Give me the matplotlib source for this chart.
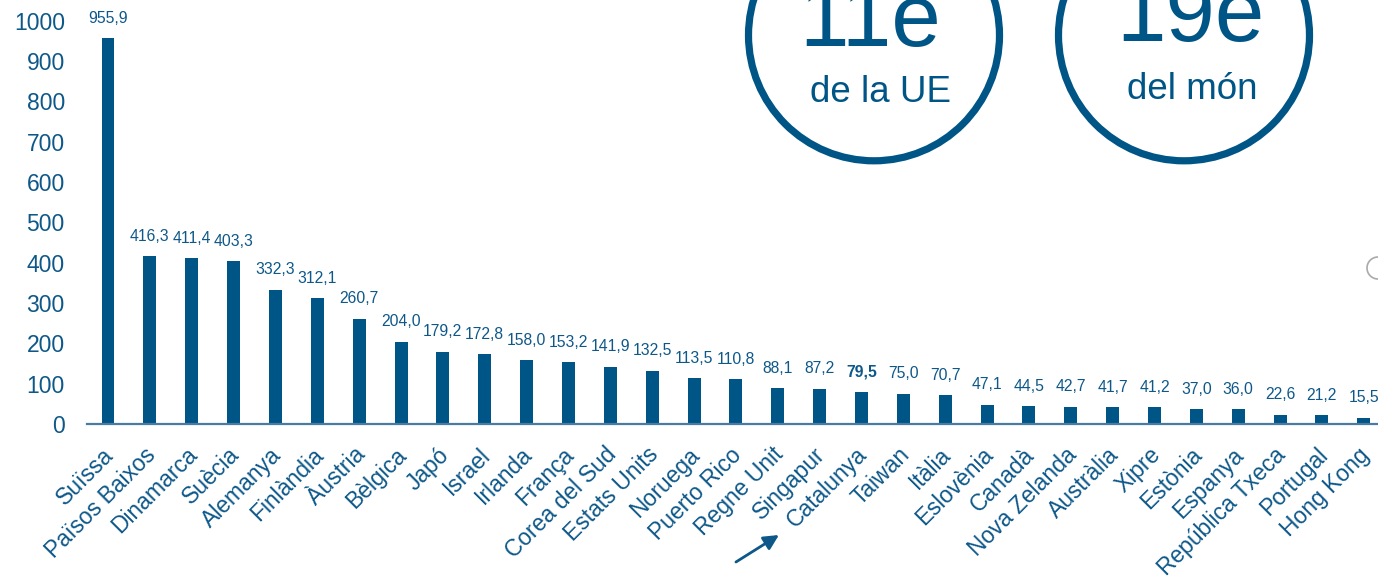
import matplotlib
matplotlib.use("Agg")
import matplotlib.pyplot as plt
from matplotlib.patches import Circle
from matplotlib.transforms import ScaledTranslation

plt.rcParams['font.family'] = ['Liberation Sans', 'DejaVu Sans']

countries = ["Suïssa", "Països Baixos", "Dinamarca", "Suècia", "Alemanya", "Finlàndia",
             "Àustria", "Bèlgica", "Japó", "Israel", "Irlanda", "França", "Corea del Sud",
             "Estats Units", "Noruega", "Puerto Rico", "Regne Unit", "Singapur", "Catalunya",
             "Taiwan", "Itàlia", "Eslovènia", "Canadà", "Nova Zelanda", "Austràlia", "Xipre",
             "Estònia", "Espanya", "República Txeca", "Portugal", "Hong Kong"]
values = [955.9, 416.3, 411.4, 403.3, 332.3, 312.1, 260.7, 204.0, 179.2, 172.8, 158.0,
          153.2, 141.9, 132.5, 113.5, 110.8, 88.1, 87.2, 79.5, 75.0, 70.7, 47.1, 44.5,
          42.7, 41.7, 41.2, 37.0, 36.0, 22.6, 21.2, 15.5]
yticks = [0, 100, 200, 300, 400, 500, 600, 700, 800, 900, 1000]
highlight = "Catalunya"
badge_big = ["11e", "19e"]
badge_small = ["de la UE", "del món"]

BAR = "#005587"
TXT = "#0D5889"
AXC = "#4A7BA3"

W, H = 1378, 578
fig = plt.figure(figsize=(W / 100, H / 100), dpi=100)
ax = fig.add_axes([87 / W, (H - 424) / H, 1 - 87 / W, 403.5 / H])

x = list(range(len(countries)))
ax.bar(x, values, width=0.31, color=BAR, zorder=2)
ax.set_xlim(-0.5017, 30.34)
ax.set_ylim(0, 1000)

for s in ["top", "right", "left"]:
    ax.spines[s].set_visible(False)
ax.spines["bottom"].set_color(AXC)
ax.spines["bottom"].set_linewidth(1.6)
ax.spines["bottom"].set_zorder(3)

ax.set_yticks(yticks)
ax.set_yticklabels([str(t) for t in yticks])
ax.tick_params(axis="y", length=0, pad=16, labelsize=16.5, labelcolor=TXT)
ax.set_xticks(x)
ax.set_xticklabels([])
ax.tick_params(axis="x", length=0)

# category labels
lab_tr = ax.get_xaxis_transform() + ScaledTranslation(7 / 100, -32 / 100, fig.dpi_scale_trans)
for i, c in zip(x, countries):
    ax.text(i, 0, c, transform=lab_tr, rotation=45, rotation_mode="anchor",
            ha="right", va="baseline", fontsize=16.5, color=TXT, clip_on=False)

# value labels
for i, (c, v) in enumerate(zip(countries, values)):
    ax.annotate(f"{v:.1f}".replace(".", ","), xy=(i, v), xytext=(0, 20),
                textcoords="offset pixels", ha="center", va="center",
                fontsize=11.3, color=TXT, fontweight="bold" if c == highlight else "normal",
                annotation_clip=False)

# arrow pointing at Catalunya
ci = countries.index(highlight)
head_tr = ax.transData + ScaledTranslation(-82.5 / 100, -111 / 100, fig.dpi_scale_trans)
ax.annotate("", xy=(ci, 0), xycoords=head_tr, xytext=(-43, -27), textcoords="offset pixels",
            arrowprops=dict(arrowstyle="-|>,head_length=0.9,head_width=0.45", color="#0D5889",
                            lw=2.0, shrinkA=0, shrinkB=0), annotation_clip=False)

# overlay in pixel coordinates for the badges
ov = fig.add_axes([0, 0, 1, 1], zorder=5)
ov.set_xlim(0, W)
ov.set_ylim(H, 0)
ov.axis("off")
ov.patch.set_visible(False)

centers = [(874, 35.3), (1184, 35.3)]
big_pos = [(870, 46), (1190, 41)]
small_pos = [(880, 101.7), (1192, 99)]
for (cx, cy), bp, sp, b, s in zip(centers, big_pos, small_pos, badge_big, badge_small):
    ov.add_patch(Circle((cx, cy), 125.5, fill=False, ec=BAR, lw=5.2))
    ov.text(bp[0], bp[1], b, ha="center", va="baseline", fontsize=64, color=BAR)
    ov.text(sp[0], sp[1], s, ha="center", va="baseline", fontsize=26.5, color=BAR)

# small grey circle at right edge
ov.add_patch(Circle((1378, 268), 11, fill=False, ec="#AAAAAA", lw=1.2))

fig.savefig("out.png", dpi=100)
